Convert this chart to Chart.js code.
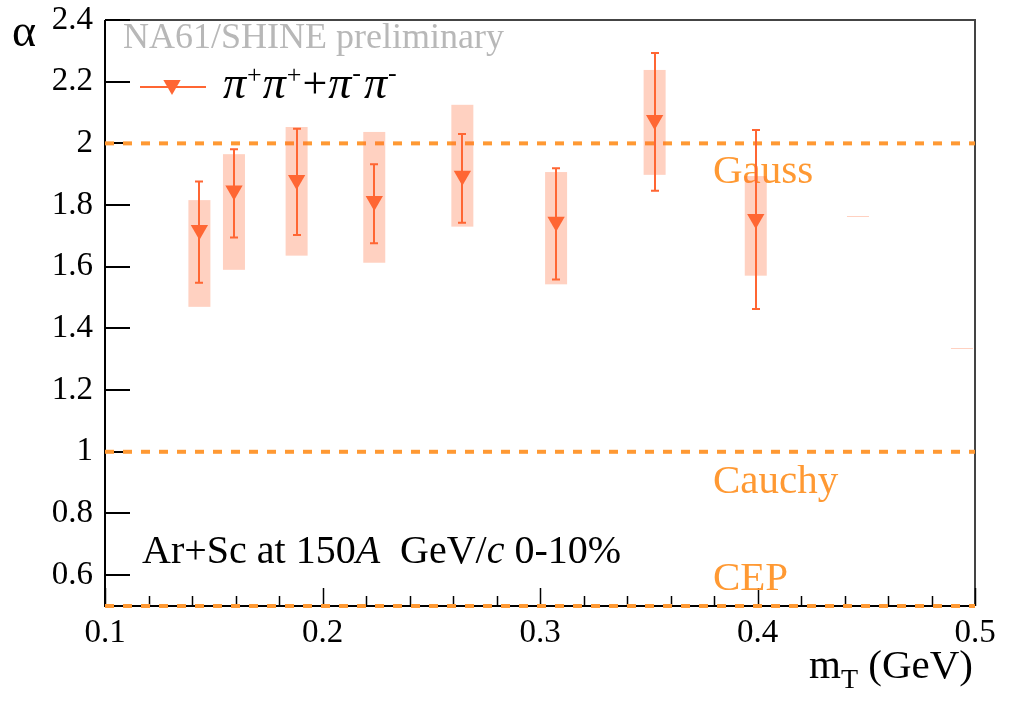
<!DOCTYPE html>
<html><head><meta charset="utf-8">
<script src="https://cdn.jsdelivr.net/npm/chart.js@4/dist/chart.umd.min.js"></script>
<style>html,body{margin:0;padding:0;background:#fff;} canvas{display:block;}</style>
</head><body>
<canvas id="c" width="1023" height="704"></canvas>
<script>
// ---- data ----
const mT       = [0.1434, 0.1593, 0.1881, 0.2238, 0.2643, 0.3074, 0.3527, 0.3992];
const alphaVal = [1.719, 1.847, 1.881, 1.813, 1.895, 1.746, 2.076, 1.755];
const statLow  = [1.548, 1.695, 1.703, 1.676, 1.743, 1.559, 1.846, 1.463];
const statHigh = [1.876, 1.981, 2.047, 1.932, 2.030, 1.919, 2.293, 2.043];
const sysLow   = [1.470, 1.590, 1.636, 1.613, 1.730, 1.543, 1.898, 1.571];
const sysHigh  = [1.816, 1.965, 2.053, 2.037, 2.125, 1.907, 2.238, 1.894];
// zero-height systematic boxes without markers
const extraX   = [0.4462, 0.4940];
const extraY   = [1.763, 1.335];
const xTicks = [0.1, 0.2, 0.3, 0.4, 0.5];
const yTicks = [0.6, 0.8, 1, 1.2, 1.4, 1.6, 1.8, 2, 2.2, 2.4];
const guideValues = [2, 1, 0.5];
const guideLabels = ['Gauss', 'Cauchy', 'CEP'];
const guideLabelY = [1.872, 0.868, 0.552];
const guideLabelX = 0.3795;

const SERIF = "'Liberation Serif', 'Times New Roman', Times, serif";
const MARK = '#ff6633';
const GUIDE = '#ff9933';
const BOX = 'rgba(255,102,51,0.3)';

function runs(ctx, list, x, y) {
  for (const r of list) {
    ctx.font = r.f;
    ctx.fillText(r.t, x, y + (r.dy || 0));
    x += ctx.measureText(r.t).width + (r.dx || 0);
  }
  return x;
}
function runsWidth(ctx, list) {
  let w = 0;
  for (const r of list) { ctx.font = r.f; w += ctx.measureText(r.t).width + (r.dx || 0); }
  return w;
}
function zeroPad(s) { s.paddingTop = 0; s.paddingBottom = 0; s.paddingLeft = 0; s.paddingRight = 0; }

const custom = {
  id: 'custom',
  beforeDatasetsDraw(chart) {
    const {ctx, chartArea: a, scales: {x, y}} = chart;
    ctx.save();
    // frame
    ctx.lineWidth = 2;
    ctx.strokeStyle = '#444';
    ctx.beginPath(); ctx.moveTo(a.left, a.top); ctx.lineTo(a.right, a.top); ctx.lineTo(a.right, a.bottom); ctx.stroke();
    ctx.strokeStyle = '#000';
    ctx.beginPath(); ctx.moveTo(a.left, a.top); ctx.lineTo(a.left, a.bottom); ctx.lineTo(a.right, a.bottom); ctx.stroke();
    // y ticks (inward)
    ctx.lineWidth = 2;
    yTicks.forEach(v => {
      const py = Math.round(y.getPixelForValue(v));
      ctx.beginPath(); ctx.moveTo(a.left, py); ctx.lineTo(a.left + 25, py); ctx.stroke();
    });
    // x ticks (inward), major + minor
    ctx.lineWidth = 1.5;
    for (let k = 0; k <= 20; k++) {
      const v = 0.1 + k * 0.02;
      const px = Math.round(x.getPixelForValue(v)) + 0.5;
      const len = (k % 5 === 0) ? 18 : 10;
      ctx.beginPath(); ctx.moveTo(px, a.bottom); ctx.lineTo(px, a.bottom - len); ctx.stroke();
    }
    // guide lines
    ctx.strokeStyle = GUIDE; ctx.lineWidth = 4; ctx.setLineDash([9, 9]);
    guideValues.forEach(v => {
      const py = y.getPixelForValue(v);
      ctx.beginPath(); ctx.moveTo(a.left, py); ctx.lineTo(a.right, py); ctx.stroke();
    });
    ctx.setLineDash([]);
    ctx.fillStyle = GUIDE; ctx.font = '41px ' + SERIF; ctx.textBaseline = 'alphabetic'; ctx.textAlign = 'left';
    guideLabels.forEach((t, i) => ctx.fillText(t, x.getPixelForValue(guideLabelX), y.getPixelForValue(guideLabelY[i])));
    // systematic boxes
    ctx.fillStyle = BOX;
    mT.forEach((m, i) => {
      const px = x.getPixelForValue(m);
      const t = y.getPixelForValue(sysHigh[i]), b = y.getPixelForValue(sysLow[i]);
      ctx.fillRect(px - 11, t, 22, b - t);
    });
    extraX.forEach((m, i) => {
      const px = x.getPixelForValue(m), py = y.getPixelForValue(extraY[i]);
      ctx.fillRect(px - 11, Math.round(py), 22, 1);
    });
    // stat error bars
    ctx.strokeStyle = MARK; ctx.lineWidth = 2;
    mT.forEach((m, i) => {
      const px = Math.round(x.getPixelForValue(m));
      const t = y.getPixelForValue(statHigh[i]), b = y.getPixelForValue(statLow[i]);
      ctx.beginPath();
      ctx.moveTo(px, t); ctx.lineTo(px, b);
      ctx.moveTo(px - 4, t); ctx.lineTo(px + 4, t);
      ctx.moveTo(px - 4, b); ctx.lineTo(px + 4, b);
      ctx.stroke();
    });
    ctx.restore();
  },
  afterDatasetsDraw(chart) {
    const {ctx} = chart;
    ctx.save();
    ctx.textAlign = 'left'; ctx.textBaseline = 'alphabetic';
    // preliminary label
    ctx.fillStyle = '#b8b8b8'; ctx.font = '36px ' + SERIF;
    ctx.fillText('NA61/SHINE preliminary', 123, 48);
    // legend
    ctx.strokeStyle = MARK; ctx.lineWidth = 2;
    ctx.beginPath(); ctx.moveTo(140, 87); ctx.lineTo(206, 87); ctx.stroke();
    ctx.fillStyle = MARK;
    ctx.beginPath(); ctx.moveTo(172 - 8.66, 80); ctx.lineTo(172 + 8.66, 80); ctx.lineTo(172, 95); ctx.closePath(); ctx.fill();
    ctx.fillStyle = '#000';
    const pi = 'italic 46px ' + SERIF, sup = '26px ' + SERIF, nor = '40px ' + SERIF, leg = '44px ' + SERIF;
    runs(ctx, [
      {t: 'π', f: pi, dx: 1}, {t: '+', f: sup, dy: -15, dx: 1},
      {t: 'π', f: pi, dx: 1}, {t: '+', f: sup, dy: -15, dx: 1},
      {t: '+', f: leg, dx: 1},
      {t: 'π', f: pi, dx: 1}, {t: '-', f: sup, dy: -17, dx: 3},
      {t: 'π', f: pi, dx: 1}, {t: '-', f: sup, dy: -17}
    ], 223, 98);
    // system label
    const it = 'italic 40px ' + SERIF;
    runs(ctx, [
      {t: 'Ar+Sc at 150', f: nor}, {t: 'A', f: it}, {t: '  GeV/', f: nor}, {t: 'c', f: it}, {t: ' 0-10%', f: nor}
    ], 142, 563);
    // x title
    const xt = [{t: 'm', f: '41px ' + SERIF}, {t: 'T', f: '28px ' + SERIF, dy: 10}, {t: ' (GeV)', f: '41px ' + SERIF}];
    runs(ctx, xt, 973 - runsWidth(ctx, xt), 678);
    // y title
    ctx.font = '46px ' + SERIF;
    ctx.fillText('α', 12, 46);
    ctx.restore();
  }
};

function build() {
  new Chart(document.getElementById('c'), {
    type: 'scatter',
    data: {
      datasets: [{
        label: 'π+π+ + π-π-',
        data: mT.map((m, i) => ({x: m, y: alphaVal[i]})),
        pointStyle: 'triangle',
        rotation: 180,
        pointRadius: 10,
        pointHoverRadius: 10,
        backgroundColor: MARK,
        borderWidth: 0
      }]
    },
    options: {
      responsive: false,
      animation: false,
      devicePixelRatio: 1,
      layout: {padding: {left: 0, top: 20, right: 48, bottom: 0}},
      plugins: {legend: {display: false}, tooltip: {enabled: false}},
      scales: {
        x: {
          type: 'linear', min: 0.1, max: 0.5,
          afterBuildTicks: s => { s.ticks = xTicks.map(v => ({value: v})); },
          afterFit: s => { s.height = 98; zeroPad(s); },
          grid: {display: false, drawTicks: false},
          border: {display: false},
          ticks: {color: '#000', padding: 8, font: {family: SERIF, size: 33}, callback: v => String(v), maxRotation: 0, autoSkip: false}
        },
        y: {
          type: 'linear', min: 0.5, max: 2.4,
          afterBuildTicks: s => { s.ticks = yTicks.map(v => ({value: v})); },
          afterFit: s => { s.width = 105; zeroPad(s); },
          grid: {display: false, drawTicks: false},
          border: {display: false},
          ticks: {color: '#000', padding: 12, font: {family: SERIF, size: 33}, callback: v => String(v), autoSkip: false}
        }
      }
    },
    plugins: [custom]
  });
}

let started = false;
function go() { if (!started) { started = true; build(); } }
try {
  Promise.all([
    document.fonts.load("40px 'Liberation Serif'"),
    document.fonts.load("italic 40px 'Liberation Serif'")
  ]).then(go, go);
  setTimeout(go, 1500);
} catch (e) { go(); }
</script>
</body></html>
